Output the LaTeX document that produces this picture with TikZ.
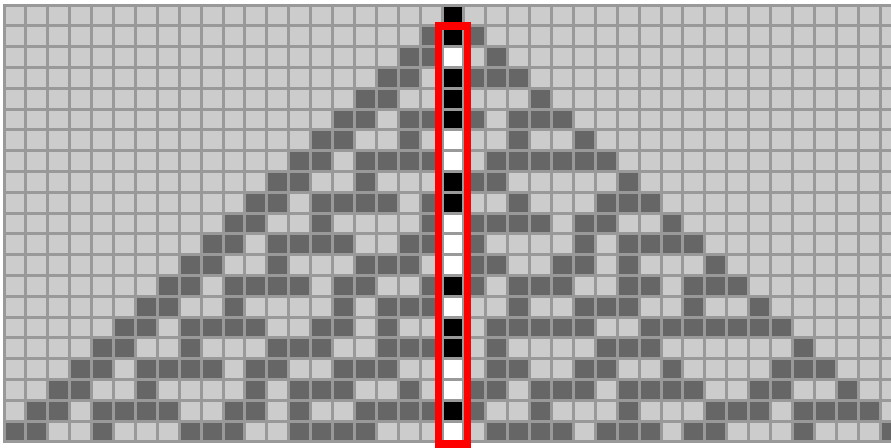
\documentclass[tikz,border=0pt]{standalone}
\definecolor{lightcell}{HTML}{CCCCCC}
\definecolor{darkcell}{HTML}{666666}
\definecolor{gridgray}{HTML}{999999}
\definecolor{boxred}{HTML}{FF0000}
\newcommand\rulecell[2]{\ifcsname rcA#1A#2\endcsname\csname rcA#1A#2\endcsname\else0\fi}
\begin{document}
\begin{tikzpicture}[x=1pt,y=-1pt,
  cellbox/.style={draw=gridgray,line width=3pt},
  redframe/.style={draw=boxred,line width=7.5pt}]
\useasboundingbox (0,0) rectangle (891,447);
\fill[white] (0,0) rectangle (891,447);
% rule 30 computation
\expandafter\xdef\csname rcA0A0\endcsname{1}
\foreach \ri in {1,...,20}{
  \foreach \ci in {-21,...,21}{
    \pgfmathtruncatemacro\pr{\ri-1}
    \pgfmathtruncatemacro\cl{\ci-1}
    \pgfmathtruncatemacro\cr{\ci+1}
    \edef\valL{\rulecell{\pr}{\cl}}
    \edef\valC{\rulecell{\pr}{\ci}}
    \edef\valR{\rulecell{\pr}{\cr}}
    \pgfmathtruncatemacro\valN{mod(\valL+max(\valC,\valR),2)}
    \expandafter\xdef\csname rcA\ri A\ci\endcsname{\valN}
  }
}
% draw cells
\foreach \ri in {0,...,20}{
  \foreach \ci in {-20,...,20}{
    \edef\cellval{\rulecell{\ri}{\ci}}
    \ifnum\ci=0\relax
      \ifnum\cellval=1\relax\def\fc{black}\else\def\fc{white}\fi
    \else
      \ifnum\cellval=1\relax\def\fc{darkcell}\else\def\fc{lightcell}\fi
    \fi
    \pgfmathsetmacro\xl{4+(\ci+20)*21.9}
    \pgfmathsetmacro\yt{5+\ri*20.8}
    \path[cellbox,fill=\fc] (\xl,\yt) rectangle ++(21.9,20.8);
  }
}
% red frame around centre column (rows 1..20)
\coordinate (frameTL) at (438.5,25.8);
\coordinate (frameBR) at (467.4,444);
\draw[redframe] (frameTL) rectangle (frameBR);
\end{tikzpicture}
\end{document}
